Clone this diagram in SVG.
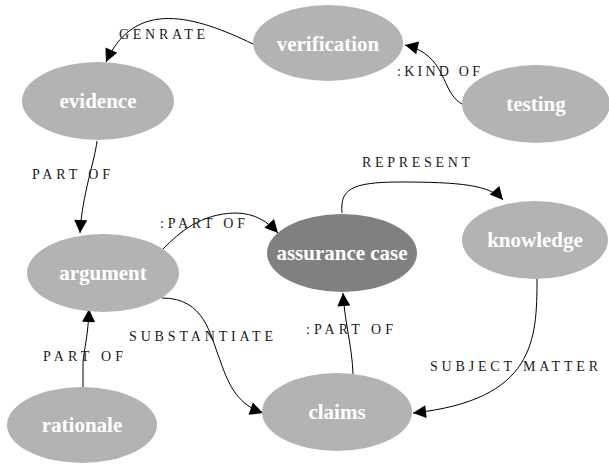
<svg xmlns="http://www.w3.org/2000/svg" width="609" height="466" viewBox="0 0 609 466">
  <style>
    .node ellipse { fill: #b3b3b3; stroke: none; }
    .node.core ellipse { fill: #808080; }
    .node text { font-family: "Liberation Serif", "Times New Roman", serif; font-weight: bold; font-size: 21px; fill: #ffffff; text-anchor: middle; }
    .edges path { fill: none; stroke: #000; stroke-width: 1; }
    .edges text { font-family: "Liberation Serif", "Times New Roman", serif; font-size: 14px; fill: #1a1a1a; }
  </style>
  <defs>
    <marker id="arrow" viewBox="0 0 10 10" refX="10" refY="5" markerUnits="userSpaceOnUse" markerWidth="16" markerHeight="13" orient="auto">
      <path d="M0,0 L10,5 L0,10 z" fill="#000"/>
    </marker>
  </defs>
  <rect width="609" height="466" fill="#fff"/>

  <!-- relations between the concepts -->
  <g id="edges" class="edges">
    <path d="M253,44 C195,16 135,-2 106,62" marker-end="url(#arrow)"/>
    <text x="119" y="39" textLength="86" lengthAdjust="spacing">GENRATE</text>

    <path d="M462,104 C440,92 448,55 405,45" marker-end="url(#arrow)"/>
    <text x="397" y="76" textLength="83" lengthAdjust="spacing">:KIND OF</text>

    <path d="M97,141 C95,160 82,195 80,233" marker-end="url(#arrow)"/>
    <text x="32" y="179" textLength="78" lengthAdjust="spacing">PART OF</text>

    <path d="M163,249 C180,232 200,214 235,213 C255,213 268,222 278,233" marker-end="url(#arrow)"/>
    <text x="160" y="228" textLength="85" lengthAdjust="spacing">:PART OF</text>

    <path d="M342,213 C340,190 350,182 400,182 C460,182 490,185 503,200" marker-end="url(#arrow)"/>
    <text x="362" y="167" textLength="108" lengthAdjust="spacing">REPRESENT</text>

    <path d="M162,298 C205,298 210,335 220,360 C230,390 240,405 263,413" marker-end="url(#arrow)"/>
    <text x="129" y="341" textLength="144" lengthAdjust="spacing">SUBSTANTIATE</text>

    <path d="M83,387 L83,365 C83,352 88,340 89,309" marker-end="url(#arrow)"/>
    <text x="43" y="361" textLength="80" lengthAdjust="spacing">PART OF</text>

    <path d="M353,374 C352,345 345,325 343,293" marker-end="url(#arrow)"/>
    <text x="306" y="334" textLength="87" lengthAdjust="spacing">:PART OF</text>

    <path d="M537,279 C537,340 535,400 413,413" marker-end="url(#arrow)"/>
    <text x="430" y="371" textLength="168" lengthAdjust="spacing">SUBJECT MATTER</text>
  </g>

  <!-- concepts -->
  <g id="verification" class="node">
    <ellipse cx="328" cy="43" rx="75" ry="38"/>
    <text x="328" y="51">verification</text>
  </g>
  <g id="evidence" class="node">
    <ellipse cx="98" cy="101" rx="76" ry="39"/>
    <text x="98" y="108">evidence</text>
  </g>
  <g id="testing" class="node">
    <ellipse cx="536" cy="104" rx="74" ry="39"/>
    <text x="536" y="111">testing</text>
  </g>
  <g id="argument" class="node">
    <ellipse cx="103" cy="273" rx="76" ry="39"/>
    <text x="103" y="280">argument</text>
  </g>
  <g id="assurance-case" class="node core">
    <ellipse cx="342" cy="253" rx="75" ry="39"/>
    <text x="342" y="260">assurance case</text>
  </g>
  <g id="knowledge" class="node">
    <ellipse cx="535" cy="240" rx="73" ry="39"/>
    <text x="535" y="247">knowledge</text>
  </g>
  <g id="rationale" class="node">
    <ellipse cx="82" cy="425" rx="75" ry="38"/>
    <text x="82" y="432">rationale</text>
  </g>
  <g id="claims" class="node">
    <ellipse cx="337" cy="412" rx="75" ry="39"/>
    <text x="337" y="419">claims</text>
  </g>
</svg>
